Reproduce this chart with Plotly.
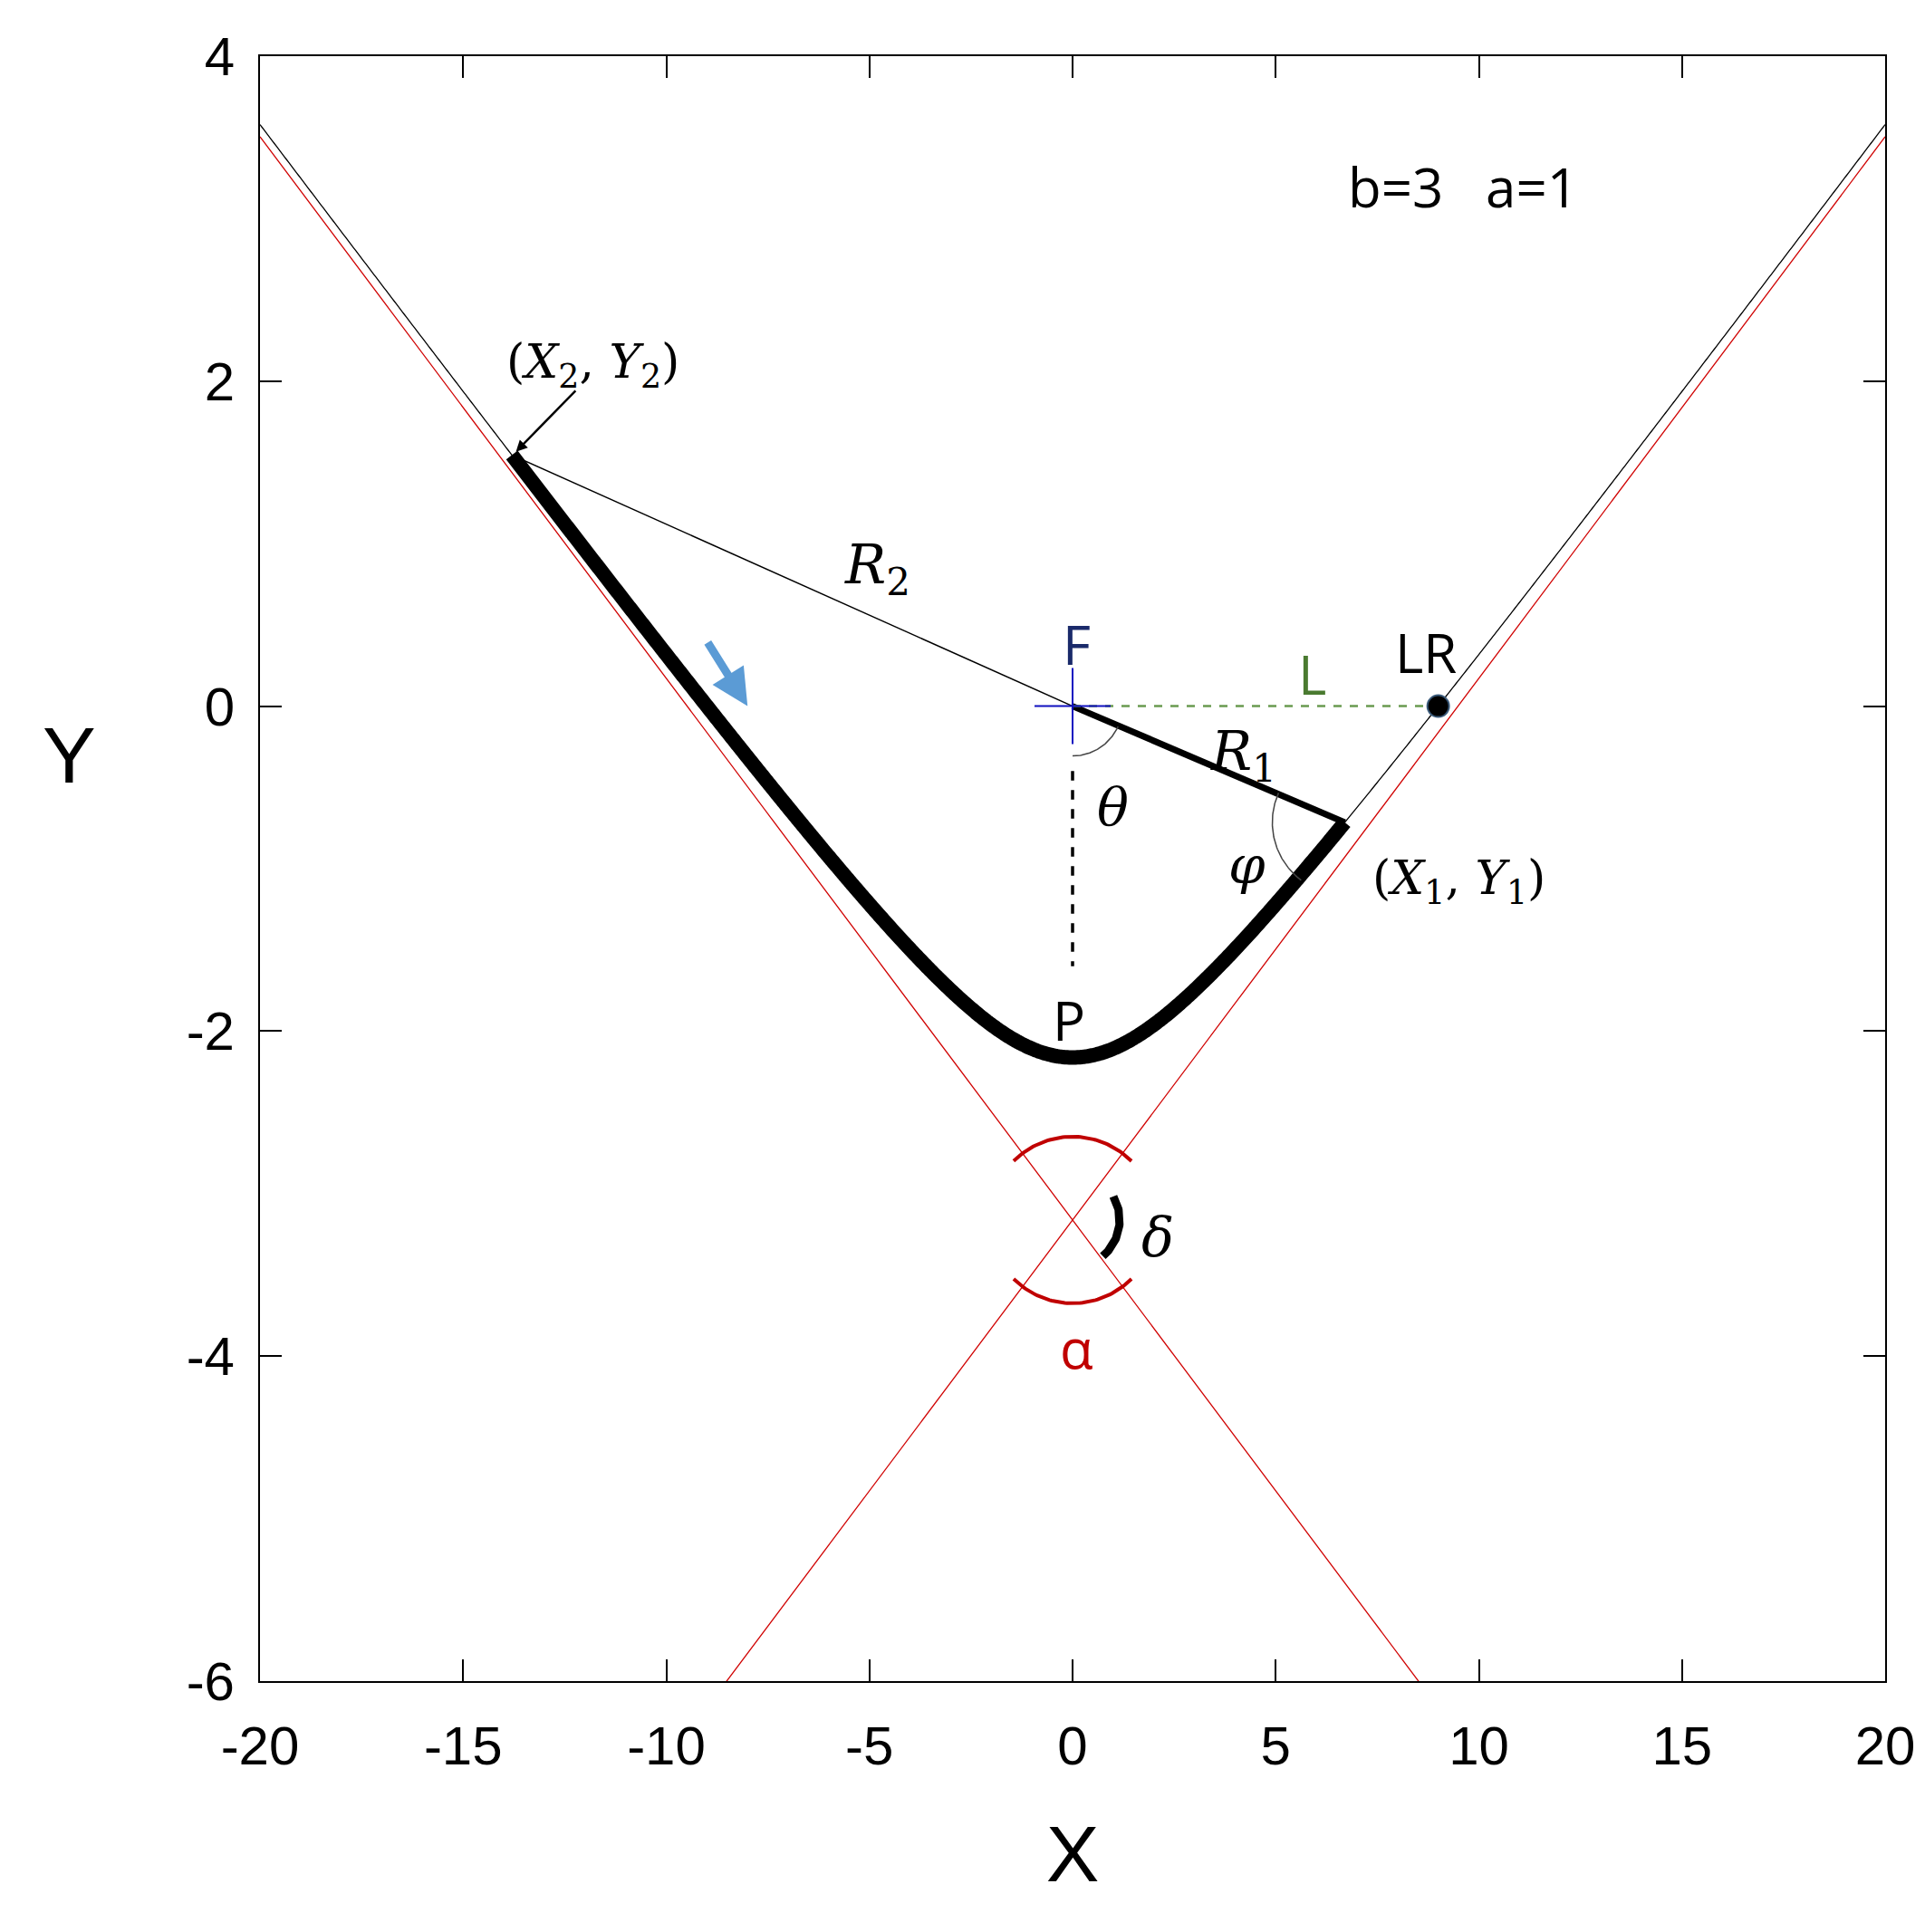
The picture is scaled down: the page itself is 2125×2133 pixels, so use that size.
import numpy as np
import plotly.graph_objects as go

a_par = 1.0
b_par = 3.0
c_par = np.sqrt(10.0)
x_thick = [-13.8, 6.7]
focus = [0.0, 0.0]
lr_point = [9.0, 0.0]
x_ticks = [-20, -15, -10, -5, 0, 5, 10, 15, 20]
x_labels = ["-20", "-15", "-10", "-5", "0", "5", "10", "15", "20"]
y_ticks = [-6, -4, -2, 0, 2, 4]
y_labels = ["-6", "-4", "-2", "0", "2", "4"]

W, H = 2125, 2133
L, R, T, B = 279, 52, 54, 285
sx = (W - L - R) / 40.0
sy = (H - T - B) / 10.0

def hyp(x):
    return -c_par + a_par * np.sqrt(1 + (x / b_par) ** 2)

def arc(cx, cy, rpx, a0, a1, n=60):
    t = np.radians(np.linspace(a0, a1, n))
    return cx + rpx * np.cos(t) / sx, cy + rpx * np.sin(t) / sy

fig = go.Figure()
xs = np.linspace(-20, 20, 800)
fig.add_trace(go.Scatter(x=xs, y=hyp(xs), mode="lines", line=dict(color="black", width=1.3, simplify=False)))
fig.add_trace(go.Scatter(x=[-20, 20], y=[-c_par + 20 / 3, -c_par - 20 / 3], mode="lines", line=dict(color="#d00000", width=1.3)))
fig.add_trace(go.Scatter(x=[-20, 20], y=[-c_par - 20 / 3, -c_par + 20 / 3], mode="lines", line=dict(color="#d00000", width=1.3)))
xt = np.linspace(x_thick[0], x_thick[1], 400)
fig.add_trace(go.Scatter(x=xt, y=hyp(xt), mode="lines", line=dict(color="black", width=16, simplify=False, shape="spline")))
X1, Y1 = x_thick[1], hyp(x_thick[1])
X2, Y2 = x_thick[0], hyp(x_thick[0])
fig.add_trace(go.Scatter(x=[focus[0], X2], y=[focus[1], Y2], mode="lines", line=dict(color="black", width=1.5)))
fig.add_trace(go.Scatter(x=[focus[0], X1], y=[focus[1], Y1], mode="lines", line=dict(color="black", width=7)))
fig.add_trace(go.Scatter(x=[0, 0], y=[-0.4, -1.6], mode="lines", line=dict(color="black", width=3.5, dash="dash")))
fig.add_trace(go.Scatter(x=[focus[0], lr_point[0]], y=[focus[1], lr_point[1]], mode="lines", line=dict(color="#6a9a50", width=2.5, dash="dash")))
fig.add_trace(go.Scatter(x=[lr_point[0]], y=[lr_point[1]], mode="markers", marker=dict(color="black", size=24, line=dict(color="#3a5a7a", width=2))))
fig.add_trace(go.Scatter(x=[0], y=[0], mode="markers", marker=dict(symbol="cross-thin", size=60, line=dict(color="#1010c0", width=2))))

ax_, ay_ = arc(0, 0, 55, -90, -24)
fig.add_trace(go.Scatter(x=ax_, y=ay_, mode="lines", line=dict(color="#444", width=1.5)))
ax_, ay_ = arc(X1, Y1, 80, 156, 233)
fig.add_trace(go.Scatter(x=ax_, y=ay_, mode="lines", line=dict(color="#444", width=1.5)))
ax_, ay_ = arc(0, -c_par, 92, 45, 135)
fig.add_trace(go.Scatter(x=ax_, y=ay_, mode="lines", line=dict(color="#c00000", width=4)))
ax_, ay_ = arc(0, -c_par, 92, 225, 315)
fig.add_trace(go.Scatter(x=ax_, y=ay_, mode="lines", line=dict(color="#c00000", width=4)))
ax_, ay_ = arc(0, -c_par, 52, 30, -50)
fig.add_trace(go.Scatter(x=ax_, y=ay_, mode="lines", line=dict(color="black", width=9)))

fs = "Open Sans"
blk = "black"
anns = [
    dict(x=9.6, y=3.2, text="b=3   a=1", font=dict(size=60, color=blk, family=fs)),
    dict(x=-11.8, y=2.1, text="(<i>X</i><sub>2</sub>, <i>Y</i><sub>2</sub>)", font=dict(size=52, color=blk, family="DejaVu Serif")),
    dict(x=9.5, y=-1.08, text="(<i>X</i><sub>1</sub>, <i>Y</i><sub>1</sub>)", font=dict(size=52, color=blk, family="DejaVu Serif")),
    dict(x=-4.8, y=0.85, text="<i>R</i><sub>2</sub>", font=dict(size=60, color=blk, family="DejaVu Serif")),
    dict(x=4.2, y=-0.3, text="<i>R</i><sub>1</sub>", font=dict(size=60, color=blk, family="DejaVu Serif")),
    dict(x=0.1, y=0.38, text="F", font=dict(size=60, color="#1a2a6a", family=fs)),
    dict(x=5.9, y=0.2, text="L", font=dict(size=60, color="#4a7a30", family=fs)),
    dict(x=8.7, y=0.33, text="LR", font=dict(size=60, color=blk, family=fs)),
    dict(x=-0.1, y=-1.93, text="P", font=dict(size=60, color=blk, family=fs)),
    dict(x=1.0, y=-0.62, text="<i>θ</i>", font=dict(size=58, color=blk, family="DejaVu Serif")),
    dict(x=4.3, y=-0.98, text="<i>φ</i>", font=dict(size=58, color=blk, family="DejaVu Serif")),
    dict(x=2.1, y=-3.27, text="<i>δ</i>", font=dict(size=60, color=blk, family="DejaVu Serif")),
    dict(x=0.1, y=-3.95, text="α", font=dict(size=60, color="#c00000", family=fs)),
]
for an in anns:
    an.update(showarrow=False, xref="x", yref="y")
    fig.add_annotation(**an)
fig.add_annotation(x=X2 + 0.1, y=Y2 + 0.02, ax=-12.2, ay=1.95, xref="x", yref="y", axref="x", ayref="y",
                   showarrow=True, arrowhead=2, arrowsize=1, arrowwidth=2.5, arrowcolor="black", text="")
fig.add_annotation(x=-8.0, y=0.0, ax=-9.0, ay=0.4, xref="x", yref="y", axref="x", ayref="y",
                   showarrow=True, arrowhead=2, arrowsize=0.9, arrowwidth=9, arrowcolor="#5b9bd5", text="")
fig.add_annotation(x=-0.135, y=0.57, xref="paper", yref="paper", text="Y", showarrow=False,
                   font=dict(size=88, family="Liberation Sans", color="black"))

axis = dict(showgrid=False, zeroline=False, showline=True, linecolor="black", linewidth=2, mirror="ticks",
            ticks="inside", ticklen=24, tickwidth=2, tickcolor="black",
            tickfont=dict(size=60, family="Liberation Sans", color="black"))
fig.update_xaxes(range=[-20, 20], tickvals=x_ticks, ticktext=x_labels, ticklabelstandoff=18,
                 title=dict(text="X", font=dict(size=88, family="Liberation Sans", color="black"), standoff=55), **axis)
fig.update_yaxes(range=[-6, 4], tickvals=y_ticks, ticktext=y_labels, ticklabelstandoff=14, **axis)
fig.update_layout(width=W, height=H, margin=dict(l=L, r=R, t=T, b=B), showlegend=False,
                  plot_bgcolor="white", paper_bgcolor="white")
fig.write_html("out.html")
